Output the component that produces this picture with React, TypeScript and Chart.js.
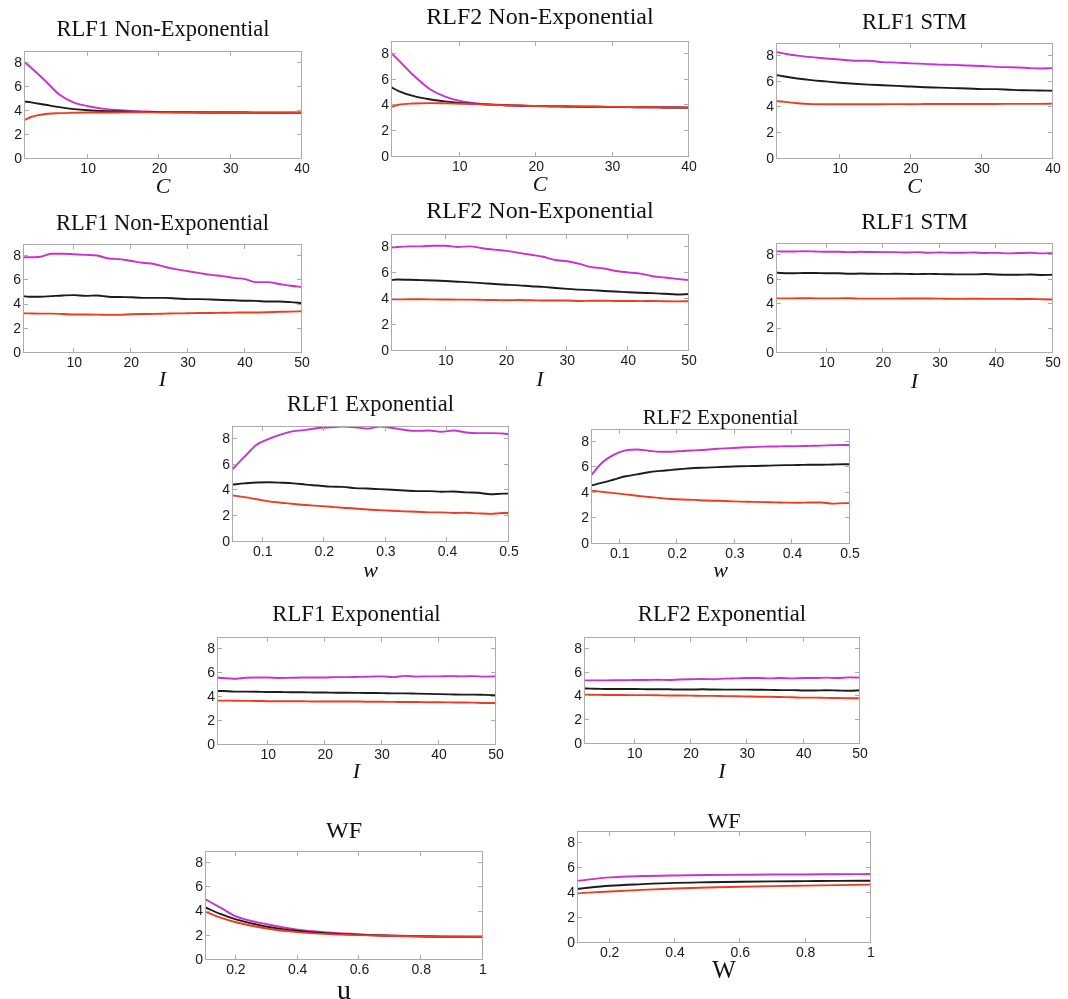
import React, { useEffect, useRef } from "react";
import { Chart, registerables } from "chart.js";
Chart.register(...registerables);

// ---------- x categories ----------
const xC = [1, 2, 4, 6, 8, 10, 12, 14, 16, 18, 20, 22, 24, 26, 28, 30, 32, 34, 36, 38, 40];
const xI = [1, 2, 4, 6, 8, 10, 12, 14, 16, 18, 20, 22, 24, 26, 28, 30, 32, 34, 36, 38, 40, 42, 44, 46, 48, 50];
const xW = [0.05, 0.07, 0.09, 0.11, 0.13, 0.15, 0.17, 0.19, 0.21, 0.23, 0.25, 0.27, 0.29, 0.31, 0.33, 0.35, 0.37, 0.39, 0.41, 0.43, 0.45, 0.47, 0.49, 0.5];
const xU = [0.1, 0.15, 0.2, 0.3, 0.4, 0.5, 0.6, 0.7, 0.8, 0.9, 1.0];
const xWW = [0.1, 0.2, 0.3, 0.4, 0.5, 0.6, 0.7, 0.8, 0.9, 1.0];

// ---------- tick labels ----------
const yTicks = [0, 2, 4, 6, 8];
const cTicks = [10, 20, 30, 40];
const iTicks = [10, 20, 30, 40, 50];
const wTicks = [0.1, 0.2, 0.3, 0.4, 0.5];
const uTicks = [0.2, 0.4, 0.6, 0.8, 1];

// ---------- series ----------
// RLF1 Non-Exponential vs C
const p1Mag = [8.1, 7.6, 6.5, 5.35, 4.7, 4.4, 4.2, 4.08, 4.0, 3.96, 3.93, 3.91, 3.9, 3.89, 3.88, 3.87, 3.87, 3.86, 3.86, 3.85, 3.85];
const p1Blk = [4.8, 4.72, 4.52, 4.32, 4.16, 4.06, 4.0, 3.97, 3.95, 3.93, 3.91, 3.9, 3.89, 3.88, 3.88, 3.87, 3.87, 3.86, 3.86, 3.85, 3.85];
const p1Red = [3.22, 3.5, 3.75, 3.82, 3.85, 3.87, 3.88, 3.88, 3.89, 3.89, 3.88, 3.88, 3.87, 3.87, 3.87, 3.86, 3.86, 3.86, 3.85, 3.85, 3.86];
// RLF2 Non-Exponential vs C
const p2Mag = [8.1, 7.5, 6.3, 5.3, 4.7, 4.35, 4.18, 4.08, 4.02, 3.98, 3.95, 3.93, 3.92, 3.9, 3.9, 3.88, 3.87, 3.86, 3.85, 3.84, 3.83];
const p2Blk = [5.42, 5.12, 4.72, 4.48, 4.32, 4.2, 4.12, 4.06, 4.02, 3.98, 3.95, 3.93, 3.92, 3.9, 3.9, 3.88, 3.87, 3.86, 3.85, 3.84, 3.83];
const p2Red = [3.88, 4.05, 4.15, 4.18, 4.16, 4.13, 4.1, 4.06, 4.02, 3.99, 3.96, 3.94, 3.92, 3.91, 3.9, 3.89, 3.88, 3.87, 3.86, 3.85, 3.84];
// RLF1 STM vs C
const p3Mag = [8.3, 8.2, 8.02, 7.9, 7.8, 7.72, 7.62, 7.62, 7.52, 7.48, 7.42, 7.38, 7.32, 7.3, 7.25, 7.22, 7.15, 7.12, 7.08, 7.02, 7.05];
const p3Blk = [6.52, 6.42, 6.25, 6.12, 6.02, 5.92, 5.84, 5.77, 5.72, 5.67, 5.62, 5.57, 5.54, 5.5, 5.47, 5.42, 5.42, 5.37, 5.33, 5.32, 5.3];
const p3Red = [4.5, 4.45, 4.32, 4.26, 4.25, 4.25, 4.25, 4.25, 4.25, 4.26, 4.25, 4.27, 4.27, 4.27, 4.27, 4.27, 4.27, 4.28, 4.28, 4.28, 4.3];
// RLF1 Non-Exponential vs I
const p4Mag = [7.92, 7.9, 7.95, 8.2, 8.2, 8.15, 8.1, 8.05, 7.8, 7.75, 7.6, 7.45, 7.35, 7.1, 6.9, 6.75, 6.6, 6.45, 6.35, 6.2, 6.1, 5.85, 5.85, 5.7, 5.55, 5.45];
const p4Blk = [4.7, 4.65, 4.65, 4.7, 4.75, 4.78, 4.72, 4.75, 4.65, 4.62, 4.6, 4.55, 4.55, 4.55, 4.5, 4.45, 4.45, 4.42, 4.38, 4.35, 4.32, 4.3, 4.25, 4.25, 4.2, 4.12];
const p4Red = [3.28, 3.27, 3.25, 3.25, 3.22, 3.18, 3.18, 3.17, 3.15, 3.15, 3.2, 3.22, 3.23, 3.25, 3.27, 3.28, 3.3, 3.3, 3.32, 3.33, 3.35, 3.35, 3.37, 3.4, 3.42, 3.45];
// RLF2 Non-Exponential vs I
const p5Mag = [7.95, 8.0, 8.05, 8.05, 8.1, 8.1, 8.0, 8.05, 7.9, 7.8, 7.7, 7.55, 7.4, 7.25, 7.0, 6.9, 6.7, 6.45, 6.35, 6.15, 6.05, 5.95, 5.75, 5.65, 5.55, 5.45];
const p5Blk = [5.45, 5.5, 5.48, 5.45, 5.42, 5.38, 5.33, 5.28, 5.22, 5.15, 5.1, 5.05, 4.98, 4.93, 4.85, 4.78, 4.72, 4.68, 4.62, 4.58, 4.52, 4.48, 4.45, 4.4, 4.35, 4.38];
const p5Red = [3.97, 3.97, 3.98, 3.98, 3.97, 3.96, 3.95, 3.95, 3.93, 3.92, 3.9, 3.92, 3.9, 3.88, 3.88, 3.88, 3.85, 3.86, 3.86, 3.85, 3.85, 3.84, 3.85, 3.83, 3.82, 3.83];
// RLF1 STM vs I
const p6Mag = [8.32, 8.3, 8.3, 8.33, 8.3, 8.28, 8.28, 8.25, 8.28, 8.26, 8.25, 8.25, 8.22, 8.25, 8.2, 8.22, 8.2, 8.2, 8.22, 8.18, 8.2, 8.15, 8.18, 8.2, 8.15, 8.18];
const p6Blk = [6.58, 6.55, 6.52, 6.55, 6.55, 6.52, 6.53, 6.48, 6.5, 6.48, 6.47, 6.48, 6.47, 6.45, 6.47, 6.45, 6.44, 6.43, 6.43, 6.46, 6.42, 6.4, 6.4, 6.42, 6.38, 6.4];
const p6Red = [4.47, 4.47, 4.47, 4.48, 4.47, 4.47, 4.47, 4.48, 4.45, 4.45, 4.45, 4.45, 4.46, 4.46, 4.46, 4.45, 4.43, 4.43, 4.44, 4.43, 4.43, 4.43, 4.42, 4.42, 4.4, 4.38];
// RLF1 Exponential vs w
const p7Mag = [5.6, 6.6, 7.55, 8.0, 8.35, 8.6, 8.7, 8.85, 8.9, 8.95, 8.9, 8.8, 8.95, 8.85, 8.7, 8.62, 8.65, 8.55, 8.65, 8.5, 8.45, 8.45, 8.42, 8.35];
const p7Blk = [4.45, 4.55, 4.62, 4.63, 4.6, 4.55, 4.45, 4.38, 4.3, 4.28, 4.18, 4.15, 4.1, 4.05, 4.0, 3.95, 3.95, 3.9, 3.92, 3.85, 3.82, 3.7, 3.75, 3.75];
const p7Red = [3.62, 3.48, 3.32, 3.15, 3.05, 2.95, 2.87, 2.8, 2.73, 2.66, 2.6, 2.52, 2.47, 2.42, 2.38, 2.35, 2.3, 2.3, 2.25, 2.27, 2.22, 2.18, 2.25, 2.25];
// RLF2 Exponential vs w
const p8Mag = [5.37, 6.4, 7.0, 7.33, 7.4, 7.3, 7.22, 7.22, 7.28, 7.33, 7.38, 7.45, 7.5, 7.55, 7.58, 7.62, 7.63, 7.65, 7.66, 7.68, 7.7, 7.73, 7.75, 7.75];
const p8Blk = [4.58, 4.8, 5.05, 5.3, 5.45, 5.62, 5.72, 5.8, 5.88, 5.95, 5.98, 6.02, 6.05, 6.08, 6.1, 6.12, 6.15, 6.17, 6.18, 6.2, 6.2, 6.22, 6.24, 6.24];
const p8Red = [4.18, 4.08, 3.98, 3.88, 3.78, 3.68, 3.6, 3.52, 3.48, 3.45, 3.4, 3.38, 3.35, 3.32, 3.3, 3.28, 3.26, 3.24, 3.23, 3.25, 3.25, 3.16, 3.2, 3.2];
// RLF1 Exponential vs I
const p9Mag = [5.62, 5.58, 5.52, 5.6, 5.62, 5.62, 5.58, 5.6, 5.62, 5.63, 5.62, 5.66, 5.66, 5.68, 5.7, 5.72, 5.66, 5.76, 5.7, 5.72, 5.72, 5.74, 5.72, 5.74, 5.7, 5.72];
const p9Blk = [4.5, 4.5, 4.45, 4.45, 4.44, 4.42, 4.42, 4.4, 4.4, 4.38, 4.37, 4.35, 4.35, 4.34, 4.33, 4.32, 4.3, 4.3, 4.28, 4.26, 4.24, 4.22, 4.2, 4.2, 4.18, 4.15];
const p9Red = [3.7, 3.7, 3.69, 3.68, 3.67, 3.65, 3.65, 3.64, 3.64, 3.63, 3.63, 3.62, 3.62, 3.62, 3.6, 3.6, 3.59, 3.58, 3.58, 3.56, 3.56, 3.55, 3.54, 3.53, 3.5, 3.5];
// RLF2 Exponential vs I
const p10Mag = [5.35, 5.35, 5.35, 5.36, 5.36, 5.38, 5.38, 5.4, 5.38, 5.42, 5.45, 5.47, 5.45, 5.5, 5.52, 5.55, 5.55, 5.52, 5.55, 5.52, 5.55, 5.55, 5.58, 5.55, 5.6, 5.58];
const p10Blk = [4.67, 4.66, 4.64, 4.62, 4.62, 4.62, 4.61, 4.6, 4.6, 4.58, 4.58, 4.6, 4.58, 4.57, 4.57, 4.57, 4.56, 4.55, 4.53, 4.53, 4.5, 4.5, 4.52, 4.5, 4.48, 4.52];
const p10Red = [4.15, 4.14, 4.13, 4.12, 4.12, 4.11, 4.11, 4.1, 4.08, 4.08, 4.07, 4.05, 4.05, 4.03, 4.02, 4.0, 3.98, 3.97, 3.95, 3.93, 3.9, 3.9, 3.88, 3.87, 3.85, 3.84];
// WF vs u
const p11Mag = [5.02, 4.32, 3.6, 2.95, 2.5, 2.27, 2.12, 2.02, 1.96, 1.93, 1.92];
const p11Blk = [4.36, 3.8, 3.35, 2.75, 2.4, 2.2, 2.08, 2.0, 1.95, 1.92, 1.92];
const p11Red = [4.0, 3.5, 3.12, 2.6, 2.3, 2.14, 2.05, 1.99, 1.94, 1.92, 1.91];
// WF vs W
const p12Mag = [5.0, 5.27, 5.38, 5.43, 5.46, 5.48, 5.5, 5.51, 5.53, 5.54];
const p12Blk = [4.35, 4.6, 4.73, 4.83, 4.88, 4.92, 4.95, 4.97, 4.99, 5.0];
const p12Red = [4.0, 4.14, 4.27, 4.38, 4.46, 4.52, 4.57, 4.61, 4.65, 4.69];

const MAGENTA = "#c932d0";
const BLACK = "#1c1c1c";
const RED = "#ef3c1e";

type Panel = {
  title: string;
  xLabel: string;
  xItalic: boolean;
  xLabelSize: number;
  xs: number[];
  mag: number[];
  blk: number[];
  red: number[];
  xMin: number;
  xMax: number;
  xTicks: number[];
  box: [number, number, number, number];
  titleY: number;
  xLabelY: number;
  titleSize: number;
};

const panels: Panel[] = [
  { title: "RLF1 Non-Exponential", xLabel: "C", xItalic: true, xLabelSize: 22, xs: xC, mag: p1Mag, blk: p1Blk, red: p1Red, xMin: 1, xMax: 40, xTicks: cTicks, box: [24, 51, 302, 159], titleY: 30, xLabelY: 187, titleSize: 22.5 },
  { title: "RLF2 Non-Exponential", xLabel: "C", xItalic: true, xLabelSize: 22, xs: xC, mag: p2Mag, blk: p2Blk, red: p2Red, xMin: 1, xMax: 40, xTicks: cTicks, box: [391, 41, 689, 157], titleY: 18, xLabelY: 185, titleSize: 24 },
  { title: "RLF1 STM", xLabel: "C", xItalic: true, xLabelSize: 22, xs: xC, mag: p3Mag, blk: p3Blk, red: p3Red, xMin: 1, xMax: 40, xTicks: cTicks, box: [776, 43, 1053, 159], titleY: 23, xLabelY: 187, titleSize: 22.6 },
  { title: "RLF1 Non-Exponential", xLabel: "I", xItalic: true, xLabelSize: 22, xs: xI, mag: p4Mag, blk: p4Blk, red: p4Red, xMin: 1, xMax: 50, xTicks: iTicks, box: [23, 244, 302, 353], titleY: 224, xLabelY: 380, titleSize: 22.5 },
  { title: "RLF2 Non-Exponential", xLabel: "I", xItalic: true, xLabelSize: 22, xs: xI, mag: p5Mag, blk: p5Blk, red: p5Red, xMin: 1, xMax: 50, xTicks: iTicks, box: [391, 234, 689, 351], titleY: 212, xLabelY: 380, titleSize: 24 },
  { title: "RLF1 STM", xLabel: "I", xItalic: true, xLabelSize: 22, xs: xI, mag: p6Mag, blk: p6Blk, red: p6Red, xMin: 1, xMax: 50, xTicks: iTicks, box: [776, 243, 1053, 353], titleY: 223, xLabelY: 382, titleSize: 23 },
  { title: "RLF1 Exponential", xLabel: "w", xItalic: true, xLabelSize: 22, xs: xW, mag: p7Mag, blk: p7Blk, red: p7Red, xMin: 0.05, xMax: 0.5, xTicks: wTicks, box: [232, 426, 509, 542], titleY: 405, xLabelY: 571, titleSize: 22.5 },
  { title: "RLF2 Exponential", xLabel: "w", xItalic: true, xLabelSize: 22, xs: xW, mag: p8Mag, blk: p8Blk, red: p8Red, xMin: 0.05, xMax: 0.5, xTicks: wTicks, box: [591, 429, 850, 544], titleY: 418, xLabelY: 571, titleSize: 21 },
  { title: "RLF1 Exponential", xLabel: "I", xItalic: true, xLabelSize: 22, xs: xI, mag: p9Mag, blk: p9Blk, red: p9Red, xMin: 1, xMax: 50, xTicks: iTicks, box: [217, 637, 496, 745], titleY: 615, xLabelY: 772, titleSize: 22.7 },
  { title: "RLF2 Exponential", xLabel: "I", xItalic: true, xLabelSize: 22, xs: xI, mag: p10Mag, blk: p10Blk, red: p10Red, xMin: 1, xMax: 50, xTicks: iTicks, box: [584, 637, 860, 744], titleY: 615, xLabelY: 772, titleSize: 22.7 },
  { title: "WF", xLabel: "u", xItalic: false, xLabelSize: 28, xs: xU, mag: p11Mag, blk: p11Blk, red: p11Red, xMin: 0.1, xMax: 1, xTicks: uTicks, box: [205, 851, 483, 960], titleY: 832, xLabelY: 992, titleSize: 24 },
  { title: "WF", xLabel: "W", xItalic: false, xLabelSize: 25, xs: xWW, mag: p12Mag, blk: p12Blk, red: p12Red, xMin: 0.1, xMax: 1, xTicks: uTicks, box: [577, 831, 871, 943], titleY: 822, xLabelY: 971, titleSize: 22 },
];

const PAD = 40;
const EDGE = 14;

const framePlugin = {
  id: "matlabFrame",
  afterDatasetsDraw(chart: any) {
    const { ctx, chartArea: a, scales } = chart;
    ctx.save();
    ctx.strokeStyle = "#ababab";
    ctx.lineWidth = 1;
    ctx.strokeRect(a.left + 0.5, a.top + 0.5, a.right - a.left - 1, a.bottom - a.top - 1);
    const tl = 5;
    ctx.beginPath();
    scales.x.ticks.forEach((t: any) => {
      const px = Math.round(scales.x.getPixelForValue(t.value)) - 0.5;
      ctx.moveTo(px, a.bottom);
      ctx.lineTo(px, a.bottom - tl);
      ctx.moveTo(px, a.top);
      ctx.lineTo(px, a.top + tl);
    });
    scales.y.ticks.forEach((t: any) => {
      const py = Math.round(scales.y.getPixelForValue(t.value)) - 0.5;
      ctx.moveTo(a.left, py);
      ctx.lineTo(a.left + tl, py);
      ctx.moveTo(a.right, py);
      ctx.lineTo(a.right - tl, py);
    });
    ctx.stroke();
    ctx.restore();
  },
};

function PanelChart({ p }: { p: Panel }) {
  const ref = useRef<HTMLCanvasElement>(null);
  const [L, T, R, B] = p.box;
  const left = L - PAD;
  const top = p.titleY - EDGE;
  const width = R - L + 2 * PAD;
  const bottom = p.xLabelY + EDGE;
  const height = bottom - top;

  useEffect(() => {
    const titleLH = p.titleSize * 0.6;
    const xLH = p.xLabelSize * 0.6;
    const mk = (ys: number[], color: string) => ({
      data: p.xs.map((x, i) => ({ x, y: ys[i] })),
      borderColor: color,
      backgroundColor: color,
      borderWidth: 1.9,
      pointRadius: 0,
      fill: false,
      cubicInterpolationMode: "monotone" as const,
    });
    const tickFont = { family: "'Liberation Sans', Arial, sans-serif", size: 14 };
    const chart = new Chart(ref.current as HTMLCanvasElement, {
      type: "line",
      data: {
        datasets: [mk(p.red, RED), mk(p.blk, BLACK), mk(p.mag, MAGENTA)],
      },
      options: {
        responsive: false,
        animation: false,
        devicePixelRatio: 1,
        layout: { padding: { left: 0, right: 0, top: 0, bottom: 0 } },
        plugins: {
          legend: { display: false },
          tooltip: { enabled: false },
          title: {
            display: true,
            text: p.title,
            color: "#111",
            font: { family: "'Liberation Serif', 'Times New Roman', serif", size: p.titleSize, weight: "normal", lineHeight: 0.6 },
            padding: { top: EDGE - titleLH / 2, bottom: T - p.titleY - titleLH / 2 },
          },
        },
        scales: {
          x: {
            type: "linear",
            min: p.xMin,
            max: p.xMax,
            afterBuildTicks: (s: any) => {
              s.ticks = p.xTicks.map((v) => ({ value: v }));
            },
            afterFit: (s: any) => {
              s.height = bottom - B;
            },
            grid: { display: false, drawTicks: false },
            border: { display: false },
            ticks: {
              padding: 2,
              color: "#1a1a1a",
              font: tickFont,
              maxRotation: 0,
              autoSkip: false,
              callback: (v: any) => String(v),
            },
            title: {
              display: true,
              text: p.xLabel,
              color: "#111",
              font: { family: "'Liberation Serif', 'Times New Roman', serif", size: p.xLabelSize, style: p.xItalic ? "italic" : "normal", lineHeight: 0.6 },
              padding: { top: 0, bottom: EDGE - xLH / 2 },
            },
          },
          y: {
            type: "linear",
            position: "left",
            min: 0,
            max: 9,
            afterBuildTicks: (s: any) => {
              s.ticks = yTicks.map((v) => ({ value: v }));
            },
            afterFit: (s: any) => {
              s.width = PAD;
            },
            grid: { display: false, drawTicks: false },
            border: { display: false },
            ticks: {
              padding: 2,
              color: "#1a1a1a",
              font: tickFont,
              callback: (v: any) => String(v),
            },
          },
          yRight: {
            type: "linear",
            position: "right",
            min: 0,
            max: 9,
            afterFit: (s: any) => {
              s.width = PAD;
            },
            grid: { display: false, drawTicks: false },
            border: { display: false },
            ticks: { display: false },
          },
        },
      } as any,
      plugins: [framePlugin],
    });
    return () => chart.destroy();
  }, []);

  return (
    <canvas
      ref={ref}
      width={width}
      height={height}
      style={{ position: "absolute", left, top, width, height, display: "block" }}
    />
  );
}

export default function App() {
  return (
    <div
      style={{
        position: "absolute",
        left: 0,
        top: 0,
        width: 1068,
        height: 999,
        overflow: "hidden",
        background: "#fff",
      }}
    >
      {panels.map((p, i) => (
        <PanelChart key={i} p={p} />
      ))}
    </div>
  );
}
